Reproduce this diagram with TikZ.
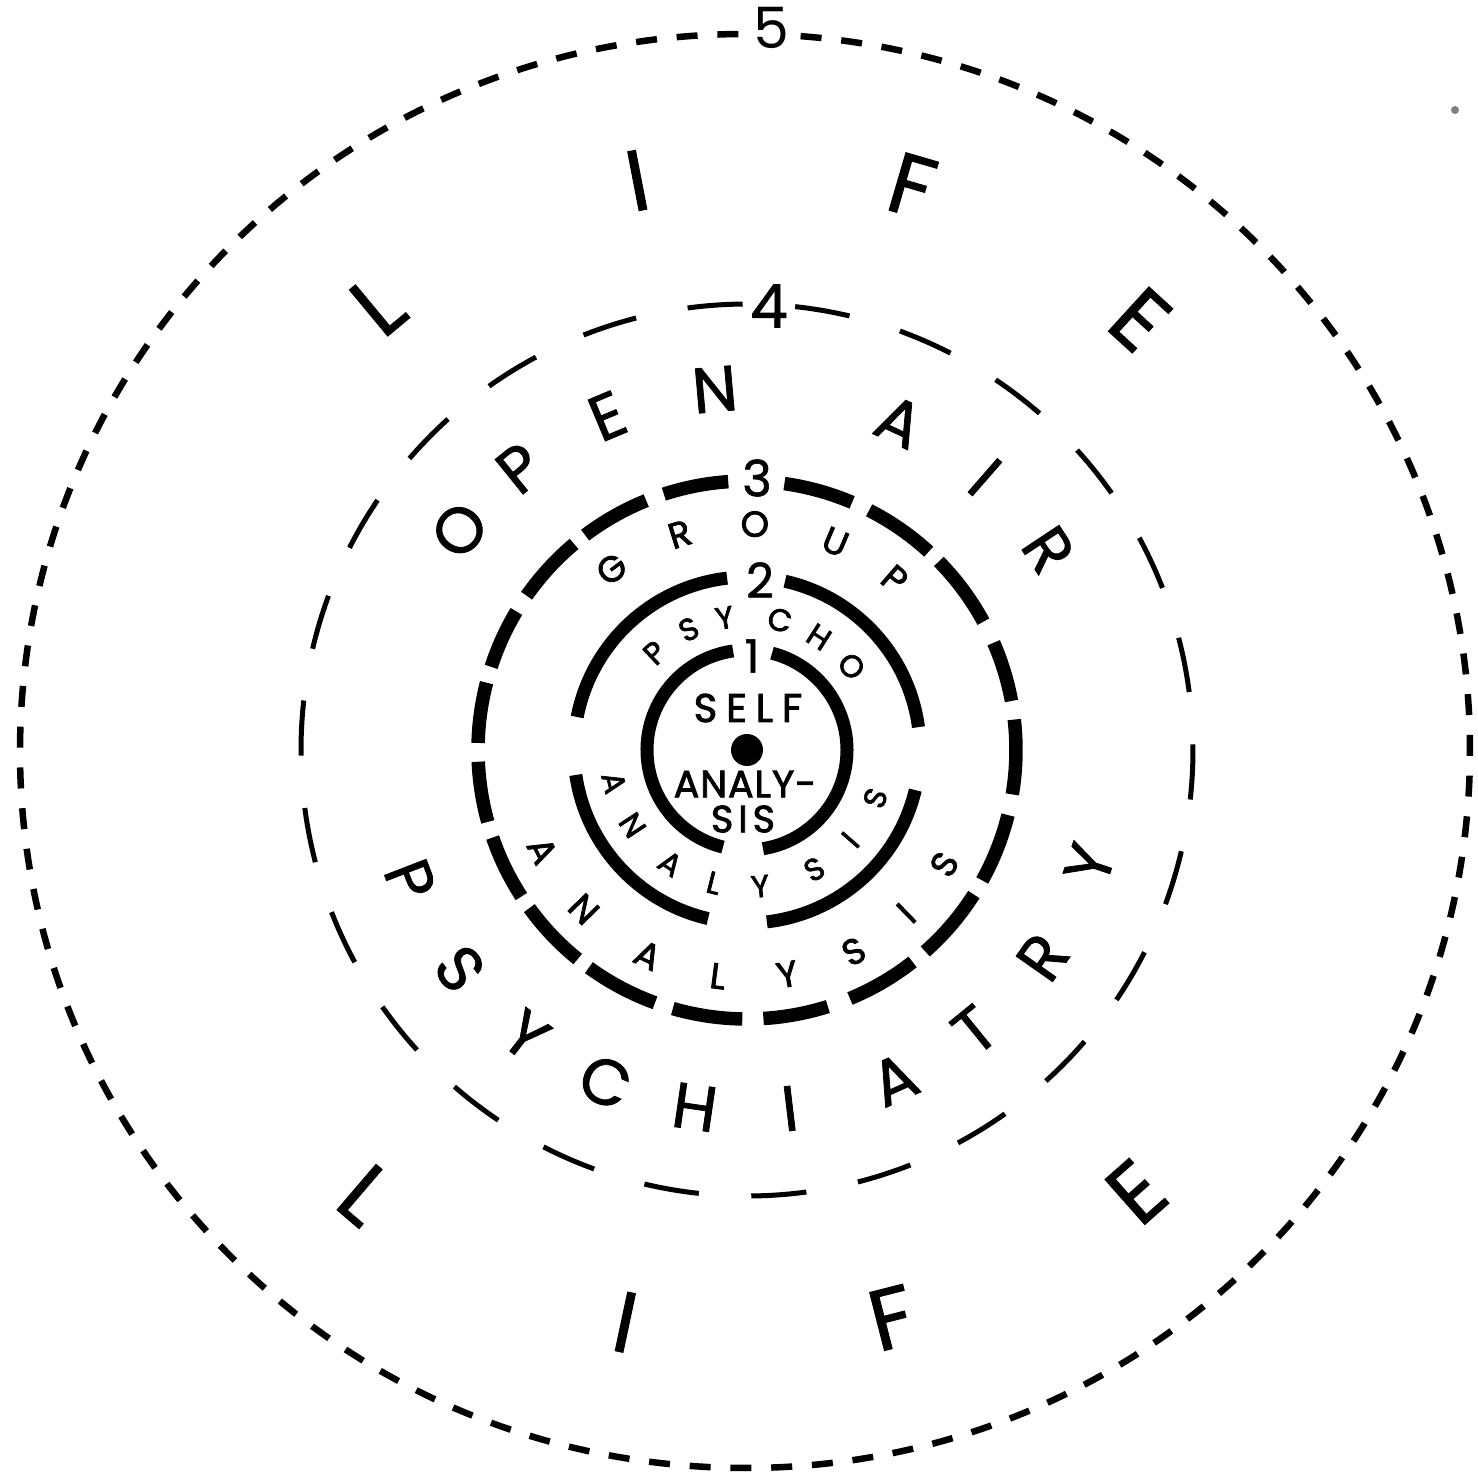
\documentclass[tikz,border=0pt]{standalone}
\usepackage{fontspec}
\setmainfont{Poppins}
\newfontfamily\heavyfont{Poppins}[FakeBold=2.2]
\newfontfamily\midfont{Poppins}[FakeBold=1.2]
\begin{document}
\begin{tikzpicture}[x=1pt,y=1pt,line cap=butt]
\tikzset{
  solidring/.style={line width=13pt},
  dashring/.style={line width=13.5pt},
  longring/.style={line width=5pt},
  dotring/.style={line width=6.5pt,dash pattern=on 21pt off 19.8pt},
  lifeletter/.style={inner sep=0pt,font=\midfont\fontsize{86}{86}\selectfont},
  bigletter/.style={inner sep=0pt,font=\midfont\fontsize{64}{64}\selectfont},
  midletter/.style={inner sep=0pt,font=\heavyfont\fontsize{36}{36}\selectfont},
  smallletter/.style={inner sep=0pt,font=\heavyfont\fontsize{31}{31}\selectfont},
  centertext/.style={inner sep=0pt,font=\heavyfont\fontsize{38}{38}\selectfont},
  numlabel/.style={inner sep=0pt},
}
\useasboundingbox (-747,-731) rectangle (731,750);
\fill[white] (-747,-731) rectangle (731,750);

% centre dot
\node[circle,fill=black,minimum size=32pt,inner sep=0pt] (dot) at (0,0) {};

% circle 1
\draw[solidring] (75.5:100) arc[start angle=75.5,end angle=-80.8,radius=100];
\draw[solidring] (98:100) arc[start angle=98,end angle=256.1,radius=100];

% circle 2
\draw[solidring] (96.6:173) arc[start angle=96.6,end angle=169,radius=173];
\draw[solidring] (77.3:173) arc[start angle=77.3,end angle=7.6,radius=173];
\draw[solidring] (188.3:173) arc[start angle=188.3,end angle=257,radius=173];
\draw[solidring] (276.6:173) arc[start angle=276.6,end angle=346.6,radius=173];

% circle 3 (thick dashes)
\foreach \s/\e in {82/67,63/47.5,44.5/28.5,23.5/10.5,6.5/-9.5,-14/-29,-32.5/-48.5,
  -52/-67.5,-72.5/-86.5,-91/-106,-110/-126,-129/-144,-147/-161,-164.5/-177.5,
  178.5/165.5,162/149,145/130,127/112,108/94}
  \draw[dashring] (\s:269) arc[start angle=\s,end angle=\e,radius=269];

% circle 4 (long thin dashes)
\foreach \k in {0,...,25}{
  \pgfmathsetmacro\st{83.8-\k*13.846}
  \pgfmathsetmacro\en{\st-7.1}
  \draw[longring] (\st:446) arc[start angle=\st,end angle=\en,radius=446];
}

% circle 5 (short dashes)
\draw[dotring] ([shift={(-2,-1)}]85.6:725 and 717)
  arc[start angle=85.6,end angle=-270.2,x radius=725,y radius=717];

% numbers
\node[numlabel,font=\fontsize{57}{57}\selectfont] (n5) at (24,722) {5};
\node[numlabel,font=\midfont\fontsize{60}{60}\selectfont] (n4) at (22,444) {4};
\node[numlabel,font=\midfont\fontsize{50}{50}\selectfont] (n3) at (10,272) {3};
\node[numlabel,font=\midfont\fontsize{48}{48}\selectfont] (n2) at (13,170) {2};
\node[numlabel,font=\midfont\fontsize{46}{46}\selectfont] (n1) at (5,94) {1};

% LIFE top and bottom
\foreach \a/\r/\t [count=\i] in {129.7/578/L,100.9/580/I,73.7/588/F,47.6/583/E}
  \node[lifeletter,rotate=\a-90] (lifetop\i) at (\a:\r) {\t};
\foreach \a/\r/\t [count=\i] in {-130.6/586/L,-102/585/I,-75.7/586/F,-48.6/589/E}
  \node[lifeletter,rotate=\a+90] (lifebot\i) at (\a:\r) {\t};

% OPEN AIR
\foreach \a/\t [count=\i] in {142.6/O,128.9/P,112.7/E,95.1/N,65.1/A,48.9/I,33.6/R}
  \node[bigletter,rotate=\a-90] (openair\i) at (\a:362) {\t};
% PSYCHIATRY
\foreach \a/\t [count=\i] in {-158.9/P,-142.7/S,-127.8/Y,-113.1/C,-98.3/H,-83.2/I,
  -65.9/A,-50.9/T,-35/R,-18.4/Y}
  \node[bigletter,rotate=\a+90] (psychiatry\i) at (\a:361) {\t};

% GROUP
\foreach \a/\t [count=\i] in {126.8/G,107.3/R,88/O,67/U,49.2/P}
  \node[midletter,rotate=\a-90] (group\i) at (\a:226) {\t};
% outer ANALYSIS
\foreach \a/\t [count=\i] in {-153.8/A,-135.7/N,-115.8/A,-97.3/L,-79.8/Y,-62.1/S,-45.7/I,-30.1/S}
  \node[midletter,rotate=\a+90] (outeranalysis\i) at (\a:228) {\t};

% PSYCHO
\foreach \a/\t [count=\i] in {133.5/P,115.8/S,99.6/Y,75.8/C,57.5/H,38.7/O}
  \node[smallletter,rotate=\a-90] (psycho\i) at (\a:134) {\t};
% inner ANALYSIS
\foreach \a/\t [count=\i] in {-166.2/A,-146.7/N,-124/A,-104/L,-84.4/Y,-60.6/S,-41/I,-20.6/S}
  \node[smallletter,rotate=\a+90] (inneranalysis\i) at (\a:137) {\t};

% centre texts
\node[centertext,font=\heavyfont\fontsize{40}{40}\selectfont] (self) at (1,42) {S\hspace{9pt}E\hspace{9pt}L\hspace{9pt}F};
\node[centertext] (analy) at (-2,-34) {A\hspace{1pt}N\hspace{1pt}A\hspace{1pt}L\hspace{1pt}Y\hspace{1pt}-};
\node[centertext] (sis) at (-4,-69) {S\hspace{5pt}I\hspace{5pt}S};

% speck
\fill[gray] (708,640) circle (4);
\end{tikzpicture}
\end{document}
